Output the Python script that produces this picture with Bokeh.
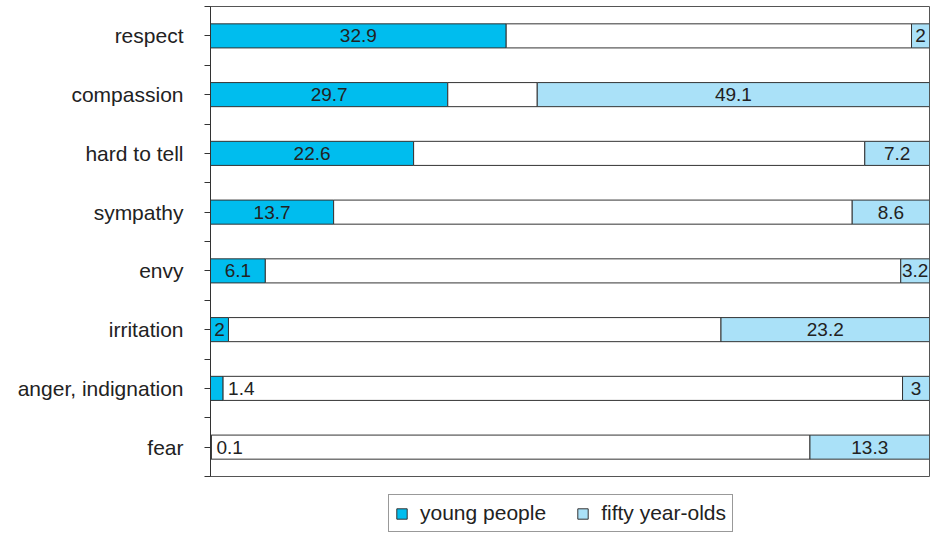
from bokeh.plotting import figure
from bokeh.layouts import column
from bokeh.models import ColumnDataSource, Legend, LegendItem, FixedTicker, Range1d
from bokeh.embed import file_html
from bokeh.resources import INLINE

categories = ["respect", "compassion", "hard to tell", "sympathy", "envy",
              "irritation", "anger, indignation", "fear"]
young = [32.9, 29.7, 22.6, 13.7, 6.1, 2, 1.4, 0.1]
fifty = [2, 49.1, 7.2, 8.6, 3.2, 23.2, 3, 13.3]
other = [45.1, 11.2, 50.2, 57.7, 70.7, 54.8, 75.6, 66.6]
series_names = ["young people", "fifty year-olds"]

YOUNG_C = "#00BDEE"
FIFTY_C = "#AAE1F8"
EDGE = "#333333"
FONT = "Liberation Sans"

n = len(categories)
ypos = [n - 0.5 - i for i in range(n)]
tot = [a + b + c for a, b, c in zip(young, other, fifty)]
y_l, y_r = [], []
o_l, o_r = [], []
f_l, f_r = [], []
for a, b, c, t in zip(young, other, fifty, tot):
    s = 100.0 / t
    y_l.append(0); y_r.append(a * s)
    o_l.append(a * s); o_r.append((a + b) * s)
    f_l.append((a + b) * s); f_r.append(100.0)

src = ColumnDataSource(dict(y=ypos, yl=y_l, yr=y_r, ol=o_l, orr=o_r, fl=f_l, fr=f_r))

p = figure(width=937, height=478, output_backend="svg", toolbar_location=None,
           x_range=Range1d(0, 100), y_range=Range1d(0, n))
p.min_border_left = 210
p.min_border_right = 8
p.min_border_top = 6
p.min_border_bottom = 2
p.outline_line_color = "#555555"
p.outline_line_width = 1
p.grid.visible = False
p.xaxis.visible = False

H = 0.41
p.hbar(y="y", left="yl", right="yr", height=H, source=src,
       fill_color=YOUNG_C, line_color=EDGE, line_width=1)
p.hbar(y="y", left="ol", right="orr", height=H, source=src,
       fill_color="white", line_color=EDGE, line_width=1)
p.hbar(y="y", left="fl", right="fr", height=H, source=src,
       fill_color=FIFTY_C, line_color=EDGE, line_width=1)

# value labels
ty_in, tx_in, tt_in = [], [], []
ty_out, tx_out, tt_out = [], [], []
for i in range(n):
    if young[i] <= 1.5:
        ty_out.append(ypos[i]); tx_out.append(y_r[i]); tt_out.append(str(young[i]))
    else:
        ty_in.append(ypos[i]); tx_in.append((y_l[i] + y_r[i]) / 2); tt_in.append(str(young[i]))
    ty_in.append(ypos[i]); tx_in.append((f_l[i] + f_r[i]) / 2); tt_in.append(str(fifty[i]))

p.text(x=tx_in, y=ty_in, text=tt_in, text_align="center", text_baseline="middle",
       text_font={"value": FONT}, text_font_size="19px", text_color="#222222")
p.text(x=tx_out, y=ty_out, text=tt_out, text_align="left", text_baseline="middle",
       x_offset=5, text_font={"value": FONT}, text_font_size="19px", text_color="#222222")

ticks = [k * 0.5 for k in range(2 * n + 1)]
p.yaxis.ticker = FixedTicker(ticks=ticks)
overrides = {}
for t in ticks:
    overrides[t] = ""
for i, c in enumerate(categories):
    overrides[ypos[i]] = c
p.yaxis.major_label_overrides = overrides
p.yaxis.major_label_text_font = FONT
p.yaxis.major_label_text_font_size = "21px"
p.yaxis.major_label_text_color = "#222222"
p.yaxis.major_label_standoff = 21
p.yaxis.major_tick_out = 6
p.yaxis.major_tick_in = 0
p.yaxis.minor_tick_out = 0
p.yaxis.minor_tick_in = 0
p.yaxis.axis_line_color = "#333333"
p.yaxis.major_tick_line_color = "#333333"

# legend strip (its frame is aligned with the main frame by the column layout)
lg = figure(width=937, height=57, output_backend="svg", toolbar_location=None,
            x_range=Range1d(0, 1), y_range=Range1d(0, 1))
lg.min_border_left = 0
lg.min_border_right = 0
lg.min_border_top = 0
lg.min_border_bottom = 0
lg.axis.visible = False
lg.grid.visible = False
lg.outline_line_color = None
# legend key renderers: one item each, kept below the strip's visible range
key_src = ColumnDataSource(dict(y=[-5], l=[0], r=[0]))
r1 = lg.hbar(y="y", left="l", right="r", height=0.5, source=key_src,
             fill_color=YOUNG_C, line_color=EDGE, line_width=1)
r2 = lg.hbar(y="y", left="l", right="r", height=0.5, source=key_src,
             fill_color=FIFTY_C, line_color=EDGE, line_width=1)

legend = Legend(items=[LegendItem(label=series_names[0], renderers=[r1]),
                       LegendItem(label=series_names[1], renderers=[r2])],
                orientation="horizontal", location=(178, 3))
legend.border_line_color = "#333333"
legend.border_line_width = 1
legend.label_text_font = FONT
legend.label_text_font_size = "21px"
legend.label_text_color = "#222222"
legend.glyph_width = 13
legend.glyph_height = 13
legend.spacing = 30
legend.padding = 6
legend.label_standoff = 12
legend.margin = 0
lg.add_layout(legend, "center")

layout = column(p, lg, spacing=0)
open("out.html", "w").write(file_html(layout, INLINE))
